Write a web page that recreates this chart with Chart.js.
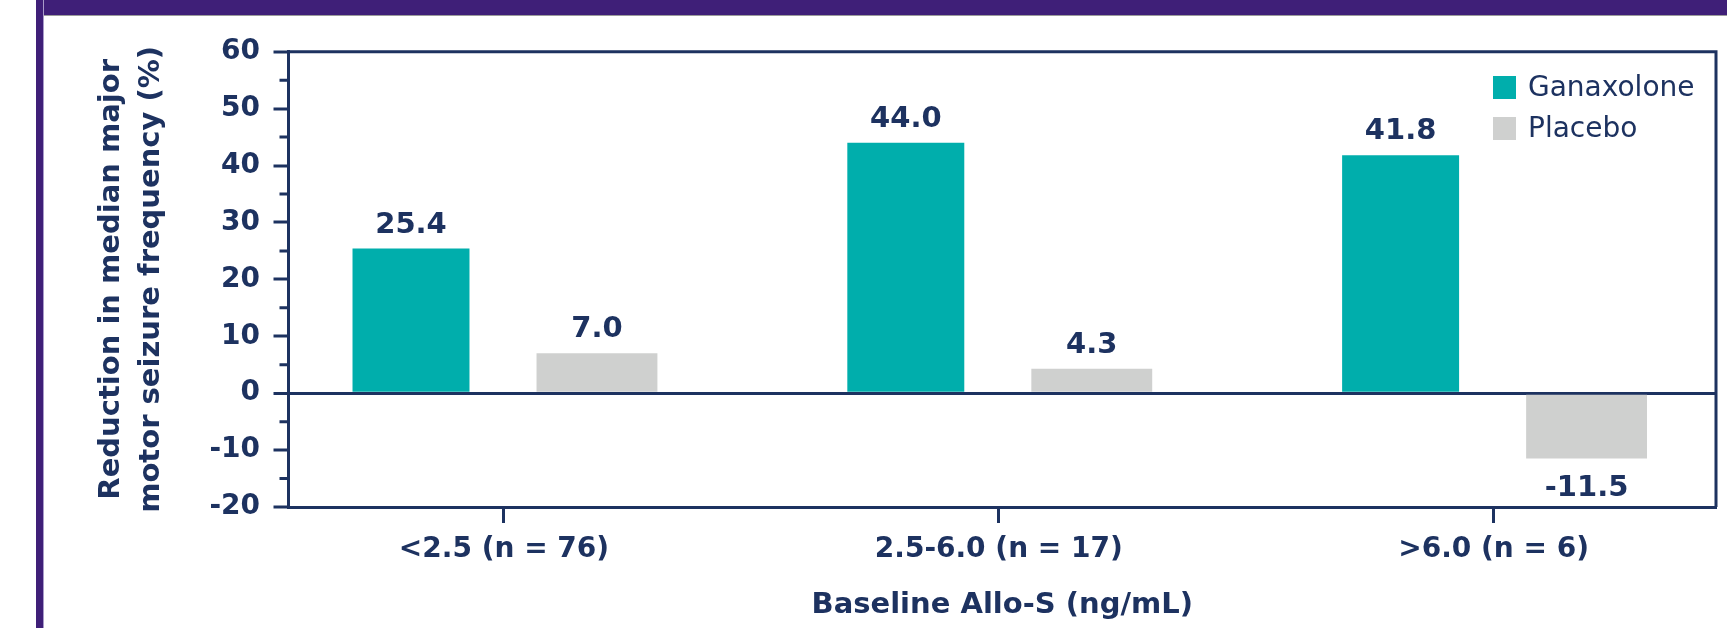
<!DOCTYPE html>
<html>
<head>
<meta charset="utf-8">
<script src="https://cdn.jsdelivr.net/npm/chart.js@4.4.1/dist/chart.umd.min.js"></script>
<style>
  html, body { margin: 0; padding: 0; background: #fff; }
  #wrap { position: relative; width: 1727px; height: 628px; overflow: hidden; }
  #banner { position: absolute; left: 36px; top: 0; right: 0; height: 15px; background: #3f1f78; border-bottom: 1px solid #9b9b9b; }
  #side { position: absolute; left: 36px; top: 0; bottom: 0; width: 7px; background: #3f1f78; border-right: 1px solid #a99bc9; }
  canvas { position: absolute; left: 0; top: 0; }
</style>
</head>
<body>
<div id="wrap">
  <div id="banner"></div>
  <div id="side"></div>
  <canvas id="chart" width="1727" height="628"></canvas>
</div>
<script>
const categories = ['<2.5 (n = 76)', '2.5-6.0 (n = 17)', '>6.0 (n = 6)'];
const ganaxolone = [25.4, 44.0, 41.8];
const placebo = [7.0, 4.3, -11.5];
const seriesNames = ['Ganaxolone', 'Placebo'];
const yTicks = [-20, -10, 0, 10, 20, 30, 40, 50, 60];
const yMinorTicks = [-15, -5, 5, 15, 25, 35, 45, 55];
const yTitle = ['Reduction in median major', 'motor seizure frequency (%)'];
const xTitle = 'Baseline Allo-S (ng/mL)';

const navy = '#1d3260';
const teal = '#00aeac';
const grey = '#cfd0cf';
const family = '"DejaVu Sans", sans-serif';

// value labels, plot frame, minor ticks and legend
const extras = {
  id: 'extras',
  afterDatasetsDraw(chart) {
    const ctx = chart.ctx;
    ctx.save();
    ctx.fillStyle = navy;
    ctx.font = 'bold 29px ' + family;
    ctx.textAlign = 'center';
    ctx.textBaseline = 'alphabetic';
    chart.data.datasets.forEach((ds, di) => {
      chart.getDatasetMeta(di).data.forEach((bar, i) => {
        const v = ds.data[i].y;
        const y = v >= 0 ? bar.y - 16 : bar.y + 37;
        ctx.fillText(v.toFixed(1), bar.x, y);
      });
    });
    ctx.restore();
  },
  afterDraw(chart) {
    const ctx = chart.ctx;
    const a = chart.chartArea;
    const ys = chart.scales.y;
    ctx.save();
    ctx.strokeStyle = navy;
    ctx.lineWidth = 3;
    ctx.beginPath();
    ctx.moveTo(a.left, a.top);
    ctx.lineTo(a.right, a.top);
    ctx.lineTo(a.right, a.bottom);
    ctx.stroke();
    ctx.beginPath();
    yMinorTicks.forEach(v => {
      const py = ys.getPixelForValue(v);
      ctx.moveTo(a.left - 9, py);
      ctx.lineTo(a.left, py);
    });
    ctx.stroke();

    // legend
    ctx.font = '28px ' + family;
    ctx.textAlign = 'left';
    ctx.textBaseline = 'middle';
    chart.data.datasets.forEach((ds, di) => {
      const top = 76 + di * 41;
      ctx.fillStyle = ds.backgroundColor;
      ctx.fillRect(1493, top, 23, 23);
      ctx.fillStyle = navy;
      ctx.fillText(ds.label, 1528, top + 13);
    });
    ctx.restore();
  }
};

new Chart(document.getElementById('chart'), {
  type: 'bar',
  data: {
    datasets: [
      {
        label: seriesNames[0],
        data: ganaxolone.map((v, i) => ({ x: i, y: v })),
        backgroundColor: teal,
        barPercentage: 0.629
      },
      {
        label: seriesNames[1],
        data: placebo.map((v, i) => ({ x: i, y: v })),
        backgroundColor: grey,
        barPercentage: 0.65
      }
    ]
  },
  options: {
    responsive: false,
    animation: false,
    categoryPercentage: 0.7517,
    layout: { padding: { top: 51.7, right: 11, bottom: 0, left: 0 } },
    plugins: { legend: { display: false }, tooltip: { enabled: false } },
    scales: {
      x: {
        type: 'linear',
        bounds: 'data',
        offset: false,
        min: -0.4355,
        max: 2.4495,
        afterBuildTicks: s => { s.ticks = categories.map((c, i) => ({ value: i })); },
        afterFit: s => { s.height = 121; },
        border: { display: true, color: navy, width: 3 },
        grid: { offset: false, drawOnChartArea: false, drawTicks: true, tickLength: 16, tickWidth: 3, tickColor: navy },
        ticks: {
          callback: v => categories[v],
          color: navy,
          font: { family: family, size: 28, weight: 'bold' },
          padding: 10,
          maxRotation: 0,
          autoSkip: false
        },
        title: {
          display: true,
          text: xTitle,
          color: navy,
          font: { family: family, size: 29, weight: 'bold' },
          padding: { top: 0, bottom: 5.6 }
        }
      },
      y: {
        bounds: 'data',
        min: -20,
        max: 60,
        afterBuildTicks: s => { s.ticks = yTicks.map(v => ({ value: v })); },
        afterFit: s => { s.width = 288.5; },
        border: { display: true, color: navy, width: 3 },
        grid: {
          drawTicks: true,
          tickLength: 15,
          tickWidth: 3,
          tickColor: navy,
          color: c => (c.tick && c.tick.value === 0 ? navy : 'transparent'),
          lineWidth: c => (c.tick && c.tick.value === 0 ? 3 : 0)
        },
        ticks: {
          color: navy,
          font: { family: family, size: 28, weight: 'bold' },
          padding: 13.5
        },
        title: {
          display: true,
          text: yTitle,
          color: navy,
          font: { family: family, size: 29, weight: 'bold', lineHeight: 40 / 29 },
          padding: { top: 91, bottom: 0 }
        }
      }
    }
  },
  plugins: [extras]
});
</script>
</body>
</html>
